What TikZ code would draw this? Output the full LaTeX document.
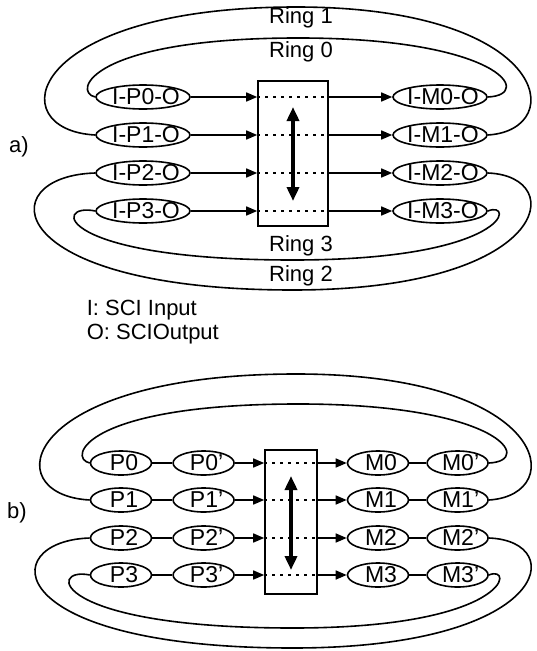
\documentclass[tikz,border=0pt]{standalone}
\usepackage{fontspec}
\setmainfont{Liberation Sans}
\usetikzlibrary{shapes.geometric, arrows.meta, positioning}

% port text sits a little right of the ellipse centre
\newcommand{\portname}[1]{\makebox[30pt]{\hspace{6pt}#1}}

\begin{document}
\begin{tikzpicture}[x=1pt, y=-1pt,
  line width=1.6pt,
  font=\fontsize{22}{24}\selectfont,
  port/.style={ellipse, draw, inner sep=0pt, minimum height=24pt,
    text height=15pt, text depth=0pt, font=\fontsize{23}{24}\selectfont},
  portA/.style={port, minimum width=94pt},
  portB/.style={port, minimum width=61pt},
  switchbox/.style={draw, rectangle, inner sep=0pt},
  tag/.style={inner sep=0pt},
  link/.style={-{Triangle[length=11pt, width=9pt]}},
  lane/.style={dash pattern=on 3pt off 5pt, line width=1.3pt},
  updown/.style={{Triangle[length=14pt, width=12pt]}-{Triangle[length=14pt, width=12pt]},
    line width=3.5pt}]
  \useasboundingbox (0,0) rectangle (537,651);

  % a) ports on the rings
  \node[portA] (p0) at (143,97) {\portname{I-P0-O}};
  \node[portA] (p1) at (143,135) {\portname{I-P1-O}};
  \node[portA] (p2) at (143,173) {\portname{I-P2-O}};
  \node[portA] (p3) at (143,211) {\portname{I-P3-O}};
  \node[portA] (m0) at (440,97) {\portname{I-M0-O}};
  \node[portA] (m1) at (440,135) {\portname{I-M1-O}};
  \node[portA] (m2) at (440,173) {\portname{I-M2-O}};
  \node[portA] (m3) at (440,211) {\portname{I-M3-O}};
  \node[switchbox, minimum width=70pt, minimum height=145pt] (swa) at (293,153.5) {};

  \draw[link] (p0.east) -- (p0 -| swa.west);
  \draw[link] (p1.east) -- (p1 -| swa.west);
  \draw[link] (p2.east) -- (p2 -| swa.west);
  \draw[link] (p3.east) -- (p3 -| swa.west);
  \draw[link] (swa.east |- m0) -- (m0.west);
  \draw[link] (swa.east |- m1) -- (m1.west);
  \draw[link] (swa.east |- m2) -- (m2.west);
  \draw[link] (swa.east |- m3) -- (m3.west);
  \draw[lane] (p0 -| swa.west) -- (p0 -| swa.east);
  \draw[lane] (p1 -| swa.west) -- (p1 -| swa.east);
  \draw[lane] (p2 -| swa.west) -- (p2 -| swa.east);
  \draw[lane] (p3 -| swa.west) -- (p3 -| swa.east);
  \coordinate (upa) at (293,107);
  \coordinate (dna) at (293,201);
  \draw[updown] (upa) -- (dna);

  % a) rings
  \draw (p0.west) .. controls (72,92) and (90,39) .. (293,38)
    .. controls (500,37) and (535,95) .. (m0.east);
  \draw (p1.west) .. controls (0,130) and (25,8) .. (293,7)
    .. controls (550,6) and (570,130) .. (m1.east);
  \draw (p2.west) .. controls (-10,176) and (0,290) .. (293,290)
    .. controls (550,290) and (570,176) .. (m2.east);
  \draw (p3.west) .. controls (52,202) and (55,260) .. (293,260)
    .. controls (510,260) and (515,200) .. (m3.east);
  \node[tag] (r1) at (301,18) {Ring 1};
  \node[tag] (r0) at (301,52) {Ring 0};
  \node[tag] (r3) at (301,246) {Ring 3};
  \node[tag] (r2) at (301,276) {Ring 2};
  \node[tag] (la) at (19,147) {a)};

  % legend
  \node[tag, anchor=west] (keyi) at (86,310) {I: SCI Input};
  \node[tag, anchor=west] (keyo) at (86,334) {O: SCIOutput};

  % b) split ports
  \node[portB] (q0) at (121,463) {\portname{P0}};
  \node[portB] (q1) at (121,500) {\portname{P1}};
  \node[portB] (q2) at (121,538) {\portname{P2}};
  \node[portB] (q3) at (121,575) {\portname{P3}};
  \node[portB, right=20pt of q0] (q0b) {\portname{P0'}};
  \node[portB, right=20pt of q1] (q1b) {\portname{P1'}};
  \node[portB, right=20pt of q2] (q2b) {\portname{P2'}};
  \node[portB, right=20pt of q3] (q3b) {\portname{P3'}};
  \node[portB] (n0) at (378,463) {\portname{M0}};
  \node[portB] (n1) at (378,500) {\portname{M1}};
  \node[portB] (n2) at (378,538) {\portname{M2}};
  \node[portB] (n3) at (378,575) {\portname{M3}};
  \node[portB, right=17pt of n0] (n0b) {\portname{M0'}};
  \node[portB, right=17pt of n1] (n1b) {\portname{M1'}};
  \node[portB, right=17pt of n2] (n2b) {\portname{M2'}};
  \node[portB, right=17pt of n3] (n3b) {\portname{M3'}};
  \node[switchbox, minimum width=52pt, minimum height=144pt] (swb) at (291,522) {};

  \draw (q0) -- (q0b);
  \draw (q1) -- (q1b);
  \draw (q2) -- (q2b);
  \draw (q3) -- (q3b);
  \draw (n0) -- (n0b);
  \draw (n1) -- (n1b);
  \draw (n2) -- (n2b);
  \draw (n3) -- (n3b);
  \draw[link] (q0b.east) -- (q0b -| swb.west);
  \draw[link] (q1b.east) -- (q1b -| swb.west);
  \draw[link] (q2b.east) -- (q2b -| swb.west);
  \draw[link] (q3b.east) -- (q3b -| swb.west);
  \draw[link] (swb.east |- n0) -- (n0.west);
  \draw[link] (swb.east |- n1) -- (n1.west);
  \draw[link] (swb.east |- n2) -- (n2.west);
  \draw[link] (swb.east |- n3) -- (n3.west);
  \draw[lane] (q0b -| swb.west) -- (q0b -| swb.east);
  \draw[lane] (q1b -| swb.west) -- (q1b -| swb.east);
  \draw[lane] (q2b -| swb.west) -- (q2b -| swb.east);
  \draw[lane] (q3b -| swb.west) -- (q3b -| swb.east);
  \coordinate (upb) at (291,476);
  \coordinate (dnb) at (291,570);
  \draw[updown] (upb) -- (dnb);

  % b) rings
  \draw (q0.west) .. controls (67,458) and (85,405) .. (293,404)
    .. controls (500,403) and (535,461) .. (n0b.east);
  \draw (q1.west) .. controls (-5,495) and (20,375) .. (293,374)
    .. controls (550,373) and (570,495) .. (n1b.east);
  \draw (q2.west) .. controls (-5,541) and (0,648) .. (293,648)
    .. controls (550,648) and (570,541) .. (n2b.east);
  \draw (q3.west) .. controls (47,566) and (50,628) .. (293,628)
    .. controls (510,628) and (515,564) .. (n3b.east);
  \node[tag] (lb) at (17,513) {b)};
\end{tikzpicture}
\end{document}
